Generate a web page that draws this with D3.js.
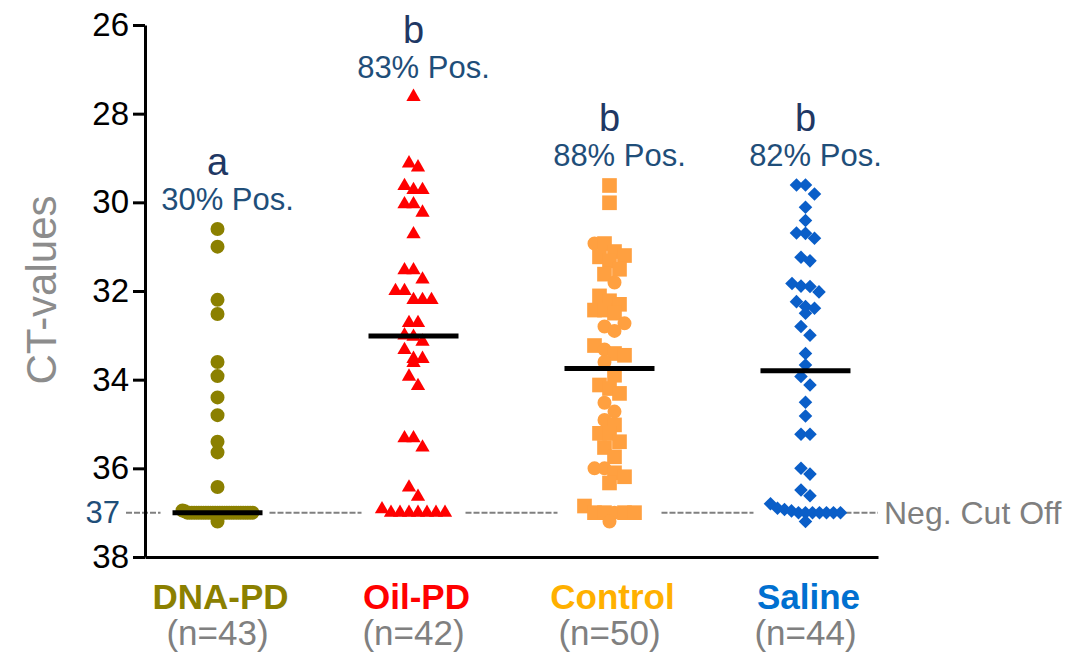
<!DOCTYPE html>
<html>
<head>
<meta charset="utf-8">
<script src="https://cdn.jsdelivr.net/npm/d3@7"></script>
<style>
body { margin: 0; background: #fff; }
text { font-family: "Liberation Sans", Arial, sans-serif; }
</style>
</head>
<body>
<div id="chart"></div>
<script>
// groups and labels
const groups = ["DNA-PD", "Oil-PD", "Control", "Saline"];
const counts = [43, 42, 50, 44];
const pctPos = [30, 83, 88, 82];
const letters = ["a", "b", "b", "b"];
const yTicks = [26, 28, 30, 32, 34, 36, 38];
const cutOff = 37;

// CT values
const dnaPD = [30.6, 31.0, 32.2, 32.52, 33.6, 33.92, 34.4, 34.8, 35.4, 35.64, 36.42, 36.95, 36.97,
  37, 37, 37, 37, 37, 37, 37, 37, 37, 37, 37, 37, 37, 37, 37,
  37, 37, 37, 37, 37, 37, 37, 37, 37, 37, 37, 37, 37, 37, 37.2];
const oilPD = [27.62, 29.12, 29.21, 29.63, 29.72, 29.72, 30.04, 30.04, 30.23, 30.72,
  31.53, 31.53, 31.74, 32.0, 32.0, 32.2, 32.2, 32.2, 32.72, 32.72,
  33.0, 33.03, 33.14, 33.33, 33.53, 33.53, 33.62, 33.93, 34.14, 35.32,
  35.32, 35.53, 36.43, 36.64, 36.92, 37, 37, 37, 37, 37, 37, 37];
const control = [29.62, 30.01, 30.93, 30.93, 31.11, 31.2, 31.23, 31.32, 31.51, 31.62,
  31.81, 32.11, 32.22, 32.3, 32.43, 32.43, 32.5, 32.73, 32.8, 32.9,
  33.23, 33.32, 33.41, 33.45, 33.6, 33.9, 34.12, 34.2, 34.31, 34.52,
  34.72, 34.91, 35.02, 35.21, 35.21, 35.4, 35.53, 35.74, 36.0, 36.0,
  36.1, 36.19, 36.33, 36.85, 37, 37, 37, 37, 37, 37.2];
// two sub-sets inside the control group: s = square, c = circle
const controlKind = ["s", "s", "c", "s", "s", "s", "s", "s", "s", "s",
  "c", "s", "s", "s", "s", "s", "s", "c", "c", "c",
  "s", "c", "s", "s", "c", "s", "s", "s", "s", "c",
  "c", "c", "s", "s", "s", "s", "s", "s", "c", "c",
  "s", "s", "s", "s", "s", "s", "c", "s", "s", "c"];
const saline = [29.61, 29.61, 29.81, 30.11, 30.41, 30.69, 30.7, 30.81, 31.24, 31.32,
  31.83, 31.89, 31.9, 32.02, 32.24, 32.35, 32.39, 32.5, 32.8, 33.0,
  33.41, 33.67, 33.93, 34.12, 34.51, 34.82, 35.23, 35.23, 36.0, 36.13,
  36.49, 36.62, 36.8, 36.9, 36.93, 36.96, 37, 37, 37, 37, 37, 37, 37, 37.2];

const values = [dnaPD, oilPD, control, saline];
const markColor = ["#8b8000", "#ff0000", "#ffa040", "#0a5ec8"];
const labelColor = ["#8b8000", "#ff0000", "#ffb000", "#0070d0"];

var W = 1072, H = 652;
var svg = d3.select("#chart").append("svg").attr("width", W).attr("height", H);

var y = d3.scaleLinear().domain([26, 38]).range([25, 557]);
var x = d3.scalePoint().domain(groups).range([145, 878]).padding(0.37);

// simple scatter layout: points close in value share a row and get spread sideways
function layout(vals, rowH, stepMax) {
  var idx = vals.map((v, i) => i).sort((a, b) => vals[a] - vals[b]);
  var rows = [], cur = null;
  idx.forEach(function(i) {
    if (cur && vals[i] - cur.start < rowH) cur.items.push(i);
    else { cur = {start: vals[i], items: [i]}; rows.push(cur); }
  });
  var off = new Array(vals.length).fill(0);
  rows.forEach(function(r) {
    var n = r.items.length;
    if (n < 2) return;
    var step = Math.min(stepMax, 70 / (n - 1));
    r.items.forEach(function(i, k) { off[i] = (k - (n - 1) / 2) * step; });
  });
  return off;
}

// cut off dashed line, broken around each group
var cx = groups.map(g => x(g));
var segs = [[126, cx[0] - 57]];
for (var i = 0; i < cx.length - 1; i++) segs.push([cx[i] + 52, cx[i + 1] - 52]);
segs.push([cx[3] + 40, 878]);
svg.selectAll(".cut").data(segs).enter().append("line")
  .attr("x1", d => d[0]).attr("x2", d => d[1])
  .attr("y1", y(cutOff)).attr("y2", y(cutOff))
  .style("stroke", "#808080").style("stroke-width", 2)
  .style("stroke-dasharray", "6,2");

svg.append("text").attr("x", 884).attr("y", y(cutOff))
  .attr("dominant-baseline", "central")
  .style("font-size", "32px").style("fill", "#7f7f7f")
  .text("Neg. Cut Off");

svg.append("text").attr("x", 120).attr("y", y(cutOff))
  .attr("text-anchor", "end").attr("dominant-baseline", "central")
  .style("font-size", "31px").style("fill", "#1f4e79")
  .text(cutOff);

// points
var symCircle = d3.symbol().type(d3.symbolCircle).size(154);
var symTri = d3.symbol().type(d3.symbolTriangle).size(88);
var symSquare = d3.symbol().type(d3.symbolSquare).size(215);
var symDiamond = d3.symbol().type(d3.symbolSquare).size(92);
var rowH = [0.22, 0.22, 0.3, 0.22];
var stepMax = [9, 9, 10, 9];

values.forEach(function(vals, gi) {
  var off = layout(vals, rowH[gi], stepMax[gi]);
  var pts = vals.map((v, i) => ({v: v, dx: off[i], i: i}));
  svg.append("g").selectAll("path").data(pts).enter().append("path")
    .attr("transform", function(d) {
      var t = "translate(" + (cx[gi] + d.dx) + "," + y(d.v) + ")";
      return gi == 3 ? t + " rotate(45)" : t;
    })
    .attr("d", function(d) {
      if (gi == 0) return symCircle();
      if (gi == 1) return symTri();
      if (gi == 2) return controlKind[d.i] == "c" ? symCircle() : symSquare();
      return symDiamond();
    })
    .style("fill", markColor[gi]);

  // median line
  var med = d3.median(vals);
  svg.append("line")
    .attr("x1", cx[gi] - 45).attr("x2", cx[gi] + 45)
    .attr("y1", y(med)).attr("y2", y(med))
    .style("stroke", "#000").style("stroke-width", 5);

  // letters and % positive above the highest point
  var top = y(d3.min(vals));
  svg.append("text").attr("x", cx[gi] + 10).attr("y", top - 19)
    .attr("text-anchor", "middle")
    .style("font-size", "31px").style("fill", "#1f4e79")
    .text(pctPos[gi] + "% Pos.");
  svg.append("text").attr("x", cx[gi]).attr("y", top - 54)
    .attr("text-anchor", "middle")
    .style("font-size", "38px").style("fill", "#1f3864")
    .text(letters[gi]);

  // group name and n
  svg.append("text").attr("x", cx[gi] + 3).attr("y", 609)
    .attr("text-anchor", "middle")
    .style("font-size", "35px").style("font-weight", "bold").style("fill", labelColor[gi])
    .text(groups[gi]);
  svg.append("text").attr("x", cx[gi]).attr("y", 645)
    .attr("text-anchor", "middle")
    .style("font-size", "35px").style("fill", "#808080")
    .text("(n=" + counts[gi] + ")");
});

// axes
var yAxis = svg.append("g").attr("transform", "translate(145,0)")
  .call(d3.axisLeft(y).tickValues(yTicks).tickSize(12).tickSizeOuter(0).tickPadding(4));
yAxis.selectAll("line, path").style("stroke", "#000").style("stroke-width", 3);
yAxis.selectAll("text").style("font-size", "33px").style("fill", "#000")
  .style("font-family", "'Liberation Sans', Arial, sans-serif");

var xAxis = svg.append("g").attr("transform", "translate(0,557)")
  .call(d3.axisBottom(x).tickSize(0).tickFormat(""));
xAxis.select("path").style("stroke", "#000").style("stroke-width", 3);

svg.append("text")
  .attr("transform", "translate(56,290) rotate(-90)")
  .attr("text-anchor", "middle")
  .style("font-size", "42px").style("fill", "#8c8c8c")
  .text("CT-values");
</script>
</body>
</html>
